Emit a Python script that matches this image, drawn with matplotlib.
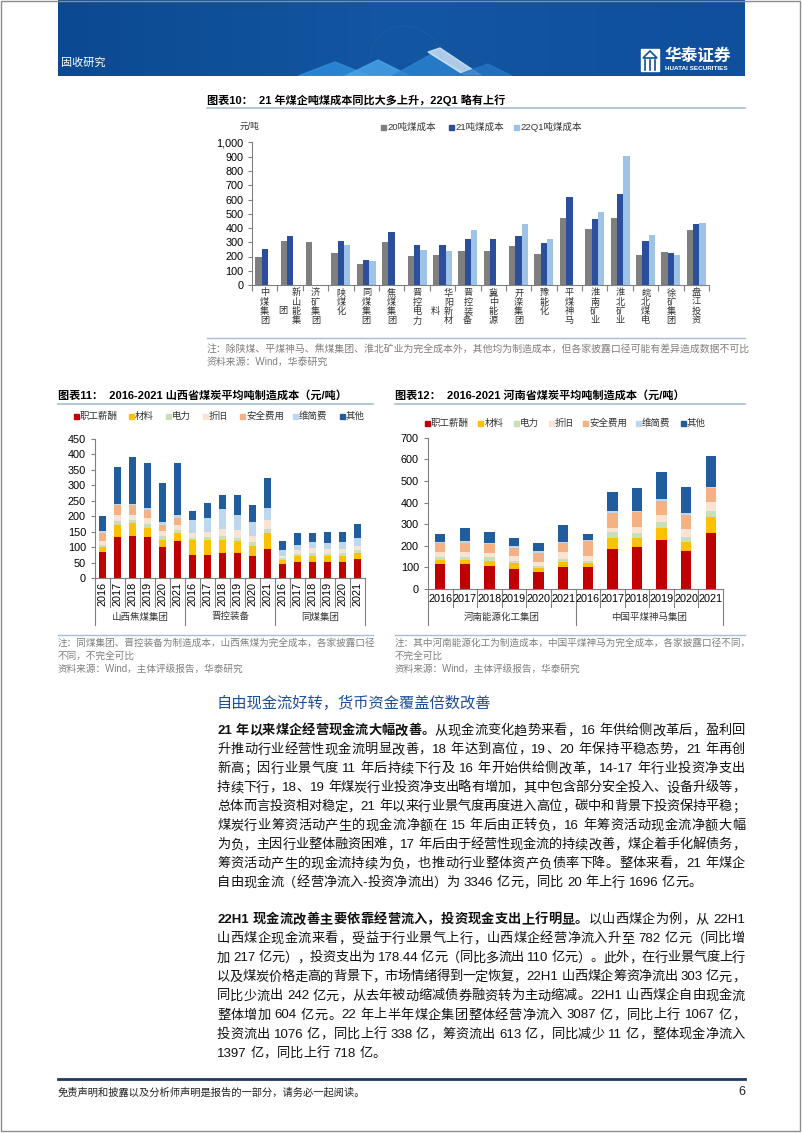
import re
import matplotlib
matplotlib.use('Agg')
import matplotlib.pyplot as plt
import matplotlib.patches as mpatches
import matplotlib.transforms as mtransforms
from matplotlib.colors import LinearSegmentedColormap
import numpy as np

plt.rcParams['font.family'] = ['Liberation Sans', 'Noto Sans CJK SC']

# ── 数据 ─────────────────────────────────────────────────────────────── #
nan = np.nan
cat10 = ['中煤集团', '新山能集团', '济矿集团', '陕煤化', '同煤集团', '焦煤集团',
         '晋控电力', '华阳新材料', '晋控装备', '冀中能源', '开滦集团', '豫能化',
         '平煤神马', '淮南矿业', '淮北矿业', '皖北煤电', '徐矿集团', '盘江投资']
cost20 = [196, 308, 301, 227, 150, 304, 206, 210, 236, 238, 276, 217, 472, 393, 470, 208, 234, 386]
cost21 = [250, 346, nan, 308, 175, 371, 280, 280, 322, 325, 346, 297, 617, 465, 638, 311, 224, 430]
cost22q1 = [nan, nan, nan, 278, 168, nan, 245, 238, 388, nan, 428, 320, nan, 509, 907, 350, 210, 435]
series10 = ['20吨煤成本', '21吨煤成本', '22Q1吨煤成本']

years = ['2016', '2017', '2018', '2019', '2020', '2021']
items = ['职工薪酬', '材料', '电力', '折旧', '安全费用', '维简费', '其他']

groups11 = ['山西焦煤集团', '晋控装备', '同煤集团']
sx_salary = [83, 132, 137, 132, 100, 119, 76, 76, 81, 81, 72, 94, 45, 51, 51, 51, 52, 62]
sx_material = [16, 39, 41, 30, 24, 27, 46, 46, 41, 38, 33, 52, 14, 19, 21, 19, 18, 19]
sx_power = [8, 14, 11, 14, 11, 11, 8, 10, 13, 11, 11, 13, 5, 8, 9, 9, 11, 11]
sx_depr = [14, 18, 16, 18, 16, 16, 16, 16, 24, 24, 19, 28, 8, 14, 16, 15, 13, 13]
sx_safety = [24, 33, 31, 26, 22, 21, 0, 0, 0, 0, 0, 0, 0, 0, 0, 0, 0, 0]
sx_maint = [8, 5, 5, 6, 7, 9, 41, 46, 65, 49, 45, 41, 20, 16, 18, 19, 21, 25]
sx_other = [47, 118, 150, 146, 127, 169, 29, 49, 44, 65, 56, 95, 27, 38, 31, 36, 34, 46]

groups12 = ['河南能源化工集团', '中国平煤神马集团']
hn_salary = [114, 114, 105, 93, 77, 104, 100, 185, 193, 229, 178, 261]
hn_material = [19, 20, 26, 26, 22, 23, 19, 53, 45, 52, 41, 71]
hn_power = [14, 12, 16, 12, 9, 11, 11, 25, 20, 27, 21, 31]
hn_depr = [23, 27, 18, 22, 19, 32, 23, 18, 31, 35, 37, 39]
hn_safety = [42, 42, 42, 39, 41, 42, 71, 70, 66, 66, 66, 64]
hn_maint = [6, 9, 8, 6, 8, 7, 3, 8, 8, 8, 8, 8]
hn_other = [37, 56, 48, 37, 39, 78, 28, 92, 106, 125, 120, 141]

# ── 画布与工具 ─────────────────────────────────────────────────────────── #
W, H = 802, 1133
fig = plt.figure(figsize=(W / 100, H / 100), dpi=100)
renderer = fig.canvas.get_renderer()


def fx(x):
    return x / W


def fy(y):
    return 1 - y / H


def add_ax(l, t, r, b):
    return fig.add_axes([fx(l), fy(b), (r - l) / W, (b - t) / H])


def ftext(x, y, s, **kw):
    kw.setdefault('va', 'center')
    return fig.text(fx(x), fy(y), s, **kw)


def fline(x0, y0, x1, y1, color, lw):
    fig.add_artist(plt.Line2D([fx(x0), fx(x1)], [fy(y0), fy(y1)],
                              transform=fig.transFigure, color=color, lw=lw))


def frect(x, y, w, h, color, **kw):
    fig.add_artist(mpatches.Rectangle((fx(x), fy(y + h)), w / W, h / H,
                                      transform=fig.transFigure, color=color, **kw))


GRAY_TXT = '#7f7f7f'
RULE = '#a9bcd3'

# 页面边框
fig.add_artist(mpatches.Rectangle((fx(1), fy(1131)), 799 / W, 1130 / H, transform=fig.transFigure,
                                  fill=False, edgecolor='#8c8c8c', lw=1))

# ── 页眉 ─────────────────────────────────────────────────────────────── #
axb = add_ax(58, 0, 745, 76)
cmap = LinearSegmentedColormap.from_list('b', ['#0b4a92', '#1356a2', '#0f4f9b'])
axb.imshow(np.linspace(0, 1, 200)[None, :], aspect='auto', cmap=cmap,
           extent=[58, 745, 76, 0])
tris = [
    ([(298, 76), (335, 62), (370, 76)], '#2f8fdc'),
    ([(345, 76), (378, 60), (410, 76)], '#4aa6ea'),
    ([(392, 76), (432, 54), (468, 76)], '#2a84d2'),
    ([(428, 52), (440, 48), (482, 76), (466, 76)], '#d5e9f8'),
    ([(455, 76), (488, 64), (512, 76)], '#2676c4'),
]
for pts, c in tris:
    axb.add_patch(mpatches.Polygon(pts, closed=True, color=c, alpha=0.8))
axb.add_patch(mpatches.Circle((405, 62), 36, fill=False, ec='#6ab6ee', lw=0.4, ls=':', alpha=0.35))
axb.set_xlim(58, 745)
axb.set_ylim(76, 0)
axb.axis('off')
ftext(61, 63, '固收研究', fontsize=8, color='white')
frect(641, 49, 18, 22, 'white')
for xx in (645, 650, 655):
    fline(xx, 60, xx, 70, '#0f4f9b', 1.2)
fig.add_artist(mpatches.Polygon([(fx(643), fy(58)), (fx(650), fy(51)), (fx(657), fy(58))],
                                closed=True, transform=fig.transFigure, fill=False,
                                ec='#0f4f9b', lw=1.2))
ftext(665, 56, '华泰证券', fontsize=12, color='white', fontweight='bold')
ftext(665, 69, 'HUATAI SECURITIES', fontsize=4.6, color='white', fontweight='bold')

# ── 图表10 ───────────────────────────────────────────────────────────── #
ftext(207, 100, '图表10：  21 年煤企吨煤成本同比大多上升，22Q1 略有上行', fontsize=8, fontweight='bold')
fline(207, 108, 745, 108, RULE, 1.2)

ax = add_ax(252, 142.5, 709, 285)
x = np.arange(len(cat10))
bw = 0.25
cols10 = ['#7f7f7f', '#2b4f9c', '#9dc3e6']
for k, (vals, c) in enumerate(zip([cost20, cost21, cost22q1], cols10)):
    ax.bar(x + (k - 1) * bw, vals, bw, color=c, linewidth=0)
ax.set_xlim(-0.5, len(cat10) - 0.5)
ax.set_ylim(0, 1000)
ax.set_yticks(range(0, 1001, 100))
ax.set_yticklabels([f'{v:,}' for v in range(0, 1001, 100)], fontsize=7.8)
ax.set_xticks(np.arange(-0.5, len(cat10), 1))
ax.set_xticklabels([])
ax.tick_params(axis='x', length=4, color='#808080', width=0.8)
ax.tick_params(axis='y', length=3, color='#808080', width=0.8, pad=3)
for s in ('top', 'right'):
    ax.spines[s].set_visible(False)
for s in ('left', 'bottom'):
    ax.spines[s].set_color('#808080')
    ax.spines[s].set_linewidth(0.8)
bt = mtransforms.blended_transform_factory(ax.transData, fig.transFigure)
for i, name in enumerate(cat10):
    main = name[:4]
    dx = 0.24 if len(name) > 4 else 0
    for k, ch in enumerate(main):
        ax.text(i + dx, fy(293 + 9.3 * k), ch, transform=bt, fontsize=6.6,
                ha='center', va='center', color='#333333')
    if len(name) > 4:
        ax.text(i - 0.28, fy(311), name[4], transform=bt, fontsize=6.6,
                ha='center', va='center', color='#333333')
ftext(240, 126, '元/吨', fontsize=6.3, color='#333333')
for lx, lab, c in zip([381, 449, 514], series10, cols10):
    frect(lx, 124.5, 5, 5, c)
    ftext(lx + 6, 127, lab, fontsize=6.8, color='#333333')

fline(207, 338, 745, 338, RULE, 1)
ftext(207, 349, '注：除陕煤、平煤神马、焦煤集团、淮北矿业为完全成本外，其他均为制造成本，但各家披露口径可能有差异造成数据不可比',
      fontsize=7.1, color=GRAY_TXT)
ftext(207, 362, '资料来源：Wind，华泰研究', fontsize=7.1, color=GRAY_TXT)

# ── 图表11 / 图表12 ───────────────────────────────────────────────────── #
cols_st = ['#c00000', '#ffc000', '#c9e0b6', '#fbe3d3', '#f4b183', '#bdd7ee', '#215d9c']


def stacked_chart(box, layers, ymax, ystep, groups, rotate, bar_w, leg_x, leg_y):
    l, t, r, b = box
    ax = add_ax(l, t, r, b)
    n = len(layers[0])
    xs = np.arange(n)
    bottom = np.zeros(n)
    for vals, c in zip(layers, cols_st):
        vals = np.array(vals, dtype=float)
        ax.bar(xs, vals, bar_w, bottom=bottom, color=c, linewidth=0)
        bottom += vals
    ax.set_xlim(-0.5, n - 0.5)
    ax.set_ylim(0, ymax)
    ax.set_yticks(range(0, ymax + 1, ystep))
    ax.tick_params(axis='y', labelsize=7.8, length=3, color='#808080', width=0.8)
    ax.set_xticks([])
    for s in ('top', 'right'):
        ax.spines[s].set_visible(False)
    for s in ('left', 'bottom'):
        ax.spines[s].set_color('#808080')
        ax.spines[s].set_linewidth(0.8)
    bt = mtransforms.blended_transform_factory(ax.transData, fig.transFigure)
    per = len(years)
    for i in range(n + 1):
        xb = i - 0.5
        y_end = 625 if i % per == 0 else 607
        ax.plot([xb, xb], [fy(b), fy(y_end)], transform=bt, color='#808080', lw=0.8, clip_on=False)
    for i in range(n):
        if rotate:
            ax.text(i, fy(594), years[i % per], transform=bt, rotation=90, fontsize=7.8,
                    ha='center', va='center')
        else:
            ax.text(i, fy(599), years[i % per], transform=bt, fontsize=7.8,
                    ha='center', va='center')
    for g, name in enumerate(groups):
        ax.text(g * per + (per - 1) / 2, fy(617), name, transform=bt, fontsize=6.8,
                ha='center', va='center', color='#333333')
    for lx, lab, c in zip(leg_x, items, cols_st):
        frect(lx - 2.5, leg_y - 2.5, 5, 5, c)
        ftext(lx + 4, leg_y, lab, fontsize=6.8, color='#333333')
    return ax


ftext(58, 395, '图表11：  2016-2021 山西省煤炭平均吨制造成本（元/吨）', fontsize=8, fontweight='bold')
fline(58, 404, 373, 404, RULE, 1.2)
stacked_chart((95, 439, 365, 578),
              [sx_salary, sx_material, sx_power, sx_depr, sx_safety, sx_maint, sx_other],
              450, 50, groups11, True, 0.43,
              [76, 131, 168, 205, 242, 295, 342], 416)
fline(58, 635, 373, 635, RULE, 1)
ftext(58, 643, '注：同煤集团、晋控装备为制造成本，山西焦煤为完全成本，各家披露口径', fontsize=6.9, color=GRAY_TXT)
ftext(58, 656, '不同，不完全可比', fontsize=6.9, color=GRAY_TXT)
ftext(58, 669, '资料来源：Wind，主体评级报告，华泰研究', fontsize=6.9, color=GRAY_TXT)

ftext(395, 395, '图表12：  2016-2021 河南省煤炭平均吨制造成本（元/吨）', fontsize=8, fontweight='bold')
fline(395, 404, 745, 404, RULE, 1.2)
stacked_chart((428, 437.7, 723, 589),
              [hn_salary, hn_material, hn_power, hn_depr, hn_safety, hn_maint, hn_other],
              700, 100, groups12, False, 0.42,
              [427, 481, 516, 551, 585, 638, 683], 423)
fline(395, 635, 745, 635, RULE, 1)
ftext(395, 643, '注：其中河南能源化工为制造成本，中国平煤神马为完全成本，各家披露口径不同，', fontsize=6.9, color=GRAY_TXT)
ftext(395, 656, '不完全可比', fontsize=6.9, color=GRAY_TXT)
ftext(395, 669, '资料来源：Wind，主体评级报告，华泰研究', fontsize=6.9, color=GRAY_TXT)

# ── 正文 ─────────────────────────────────────────────────────────────── #
ftext(217, 703, '自由现金流好转，货币资金覆盖倍数改善', fontsize=11, color='#1d4c9b')

para1 = [
    [('21 年以来煤企经营现金流大幅改善。', True), ('从现金流变化趋势来看，16 年供给侧改革后，盈利回', False)],
    [('升推动行业经营性现金流明显改善，18 年达到高位，19、20 年保持平稳态势，21 年再创', False)],
    [('新高；因行业景气度 11 年后持续下行及 16 年开始供给侧改革，14-17 年行业投资净支出', False)],
    [('持续下行，18、19 年煤炭行业投资净支出略有增加，其中包含部分安全投入、设备升级等，', False)],
    [('总体而言投资相对稳定，21 年以来行业景气度再度进入高位，碳中和背景下投资保持平稳；', False)],
    [('煤炭行业筹资活动产生的现金流净额在 15 年后由正转负，16 年筹资活动现金流净额大幅', False)],
    [('为负，主因行业整体融资困难，17 年后由于经营性现金流的持续改善，煤企着手化解债务，', False)],
    [('筹资活动产生的现金流持续为负，也推动行业整体资产负债率下降。整体来看，21 年煤企', False)],
    [('自由现金流（经营净流入-投资净流出）为 3346 亿元，同比 20 年上行 1696 亿元。', False)],
]
para2 = [
    [('22H1 现金流改善主要依靠经营流入，投资现金支出上行明显。', True), ('以山西煤企为例，从 22H1', False)],
    [('山西煤企现金流来看，受益于行业景气上行，山西煤企经营净流入升至 782 亿元（同比增', False)],
    [('加 217 亿元），投资支出为 178.44 亿元（同比多流出 110 亿元）。此外，在行业景气度上行', False)],
    [('以及煤炭价格走高的背景下，市场情绪得到一定恢复，22H1 山西煤企筹资净流出 303 亿元，', False)],
    [('同比少流出 242 亿元，从去年被动缩减债券融资转为主动缩减。22H1 山西煤企自由现金流', False)],
    [('整体增加 604 亿元。22 年上半年煤企集团整体经营净流入 3087 亿，同比上行 1067 亿，', False)],
    [('投资流出 1076 亿，同比上行 338 亿，筹资流出 613 亿，同比减少 11 亿，整体现金净流入', False)],
    [('1397 亿，同比上行 718 亿。', False)],
]

TXT_L, TXT_R, FS = 217, 745, 9.5


def text_line(y, segs, justify):
    toks = []
    for s, bold in segs:
        for tk in re.findall(r'[A-Za-z0-9.\-]+| |.', s):
            toks.append((tk, bold))
    arts, widths = [], []
    for tk, bold in toks:
        if tk == ' ':
            arts.append(None)
            widths.append(FS * 100 / 72 * 0.28)
            continue
        t = ftext(0, y, tk, fontsize=FS, fontweight='bold' if bold else 'normal',
                  ha='left', color='#111111')
        arts.append(t)
        widths.append(t.get_window_extent(renderer).width)
    gap = 0
    if justify and len(toks) > 1:
        gap = ((TXT_R - TXT_L) - sum(widths)) / (len(toks) - 1)
    xx = TXT_L
    for t, w in zip(arts, widths):
        if t is not None:
            t.set_x(fx(xx))
        xx += w + gap


for k, segs in enumerate(para1):
    text_line(731 + 19 * k, segs, k < len(para1) - 1)
for k, segs in enumerate(para2):
    text_line(920 + 19.1 * k, segs, k < len(para2) - 1)

# ── 页脚 ─────────────────────────────────────────────────────────────── #
fline(58, 1079, 745, 1079, '#1f3864', 2)
ftext(58, 1092, '免责声明和披露以及分析师声明是报告的一部分，请务必一起阅读。', fontsize=7.4,
      style='italic', color='#222222')
ftext(745, 1092, '6', fontsize=9, ha='right', color='#222222')

fig.savefig('out.png', dpi=100)
